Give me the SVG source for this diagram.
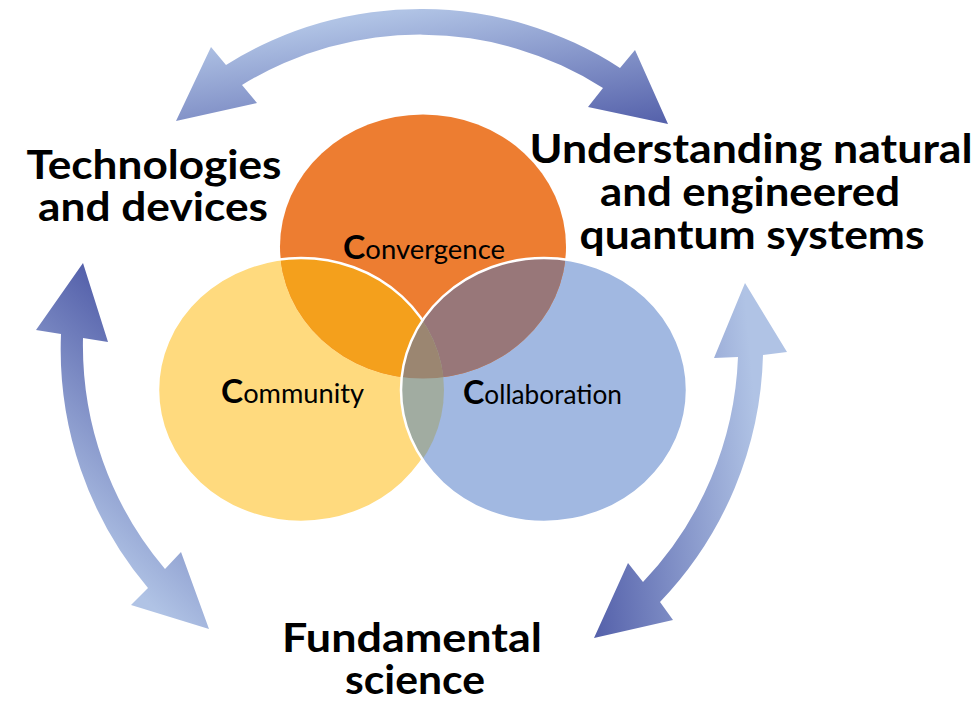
<svg xmlns="http://www.w3.org/2000/svg" width="979" height="705" viewBox="0 0 979 705">
<style>
.lbl{font-family:Lato,"Liberation Sans",sans-serif;font-weight:bold;font-size:40px;fill:#000;text-anchor:middle}
.small{font-family:Lato,"Liberation Sans",sans-serif;font-size:26px;fill:#000}
.cap{font-weight:bold;font-size:32px}
.edge{fill:none;stroke:#fff;stroke-width:2.5}
</style>
<defs>
<linearGradient id="gTop" gradientUnits="userSpaceOnUse" x1="417" y1="9" x2="440" y2="159">
<stop offset="0" stop-color="#B0C3E5"/><stop offset="1" stop-color="#5460AA"/>
</linearGradient>
<linearGradient id="gLeft" gradientUnits="userSpaceOnUse" x1="-56" y1="410" x2="83" y2="263">
<stop offset="0" stop-color="#B0C3E5"/><stop offset="1" stop-color="#5460AA"/>
</linearGradient>
<linearGradient id="gRight" gradientUnits="userSpaceOnUse" x1="774" y1="622" x2="594" y2="638">
<stop offset="0" stop-color="#B0C3E5"/><stop offset="1" stop-color="#5460AA"/>
</linearGradient>
<clipPath id="cO"><ellipse cx="423" cy="246.5" rx="143" ry="132"/></clipPath>
<clipPath id="cY"><ellipse cx="301" cy="390" rx="143" ry="132"/></clipPath>
<clipPath id="cB"><ellipse cx="544" cy="390" rx="143" ry="132"/></clipPath>
<clipPath id="cNotB"><path clip-rule="evenodd" d="M0,0H979V705H0Z M401,390 a143,132 0 1,0 286,0 a143,132 0 1,0 -286,0 Z"/></clipPath>
</defs>

<g id="connectors">
<path id="arrow-top" fill="url(#gTop)" d="M176,121 L211,47 L226,65 A366,366 0 0,1 620,68 L635,50 L668,124 L588,107 L603,88 A340,340 0 0,0 242,85 L257,103 Z"/>
<path id="arrow-left" fill="url(#gLeft)" d="M83,263 L108,342 L83,338 A345,345 0 0,0 165,569 L181,552 L209,629 L131,605 L148,588 A370,370 0 0,1 61,334 L36,330 Z"/>
<path id="arrow-right" fill="url(#gRight)" d="M745,283 L787,352 L763,355 A370,370 0 0,1 660,602 L673,620 L594,638 L628,563 L643,582 A345,345 0 0,0 738,357 L714,358 Z"/>
</g>

<g id="community">
<ellipse cx="301" cy="390" rx="143" ry="132" fill="#FFDA7E"/>
</g>
<g id="collaboration">
<ellipse cx="544" cy="390" rx="143" ry="132" fill="#A1B8E1"/>
</g>
<g id="convergence">
<ellipse cx="423" cy="246.5" rx="143" ry="132" fill="#ED7D31"/>
</g>
<g id="overlaps">
<ellipse cx="301" cy="390" rx="143" ry="132" fill="#F4A01C" clip-path="url(#cO)"/>
<ellipse cx="544" cy="390" rx="143" ry="132" fill="#987779" clip-path="url(#cO)"/>
<ellipse cx="544" cy="390" rx="143" ry="132" fill="#A1ACA1" clip-path="url(#cY)"/>
<g clip-path="url(#cO)"><ellipse cx="544" cy="390" rx="143" ry="132" fill="#9B8671" clip-path="url(#cY)"/></g>
<ellipse class="edge" cx="301" cy="390" rx="143" ry="132" clip-path="url(#cNotB)"/>
<ellipse class="edge" cx="544" cy="390" rx="143" ry="132"/>
</g>

<g id="convergence-label"><text class="small" x="343" y="259" textLength="162" lengthAdjust="spacingAndGlyphs"><tspan class="cap">C</tspan>onvergence</text></g>
<g id="community-label"><text class="small" x="221" y="403" textLength="143" lengthAdjust="spacingAndGlyphs"><tspan class="cap">C</tspan>ommunity</text></g>
<g id="collaboration-label"><text class="small" x="463" y="404" textLength="159" lengthAdjust="spacingAndGlyphs"><tspan class="cap">C</tspan>ollaboration</text></g>

<g id="technologies">
<text class="lbl" x="154" y="179" textLength="255" lengthAdjust="spacingAndGlyphs">Technologies</text>
<text class="lbl" x="153" y="221" textLength="230" lengthAdjust="spacingAndGlyphs">and devices</text>
</g>
<g id="understanding">
<text class="lbl" x="751" y="163" textLength="443" lengthAdjust="spacingAndGlyphs">Understanding natural</text>
<text class="lbl" x="750" y="206" textLength="300" lengthAdjust="spacingAndGlyphs">and engineered</text>
<text class="lbl" x="752" y="249" textLength="345" lengthAdjust="spacingAndGlyphs">quantum systems</text>
</g>
<g id="fundamental">
<text class="lbl" x="412" y="652" textLength="260" lengthAdjust="spacingAndGlyphs">Fundamental</text>
<text class="lbl" x="415" y="694" textLength="140" lengthAdjust="spacingAndGlyphs">science</text>
</g>
</svg>
